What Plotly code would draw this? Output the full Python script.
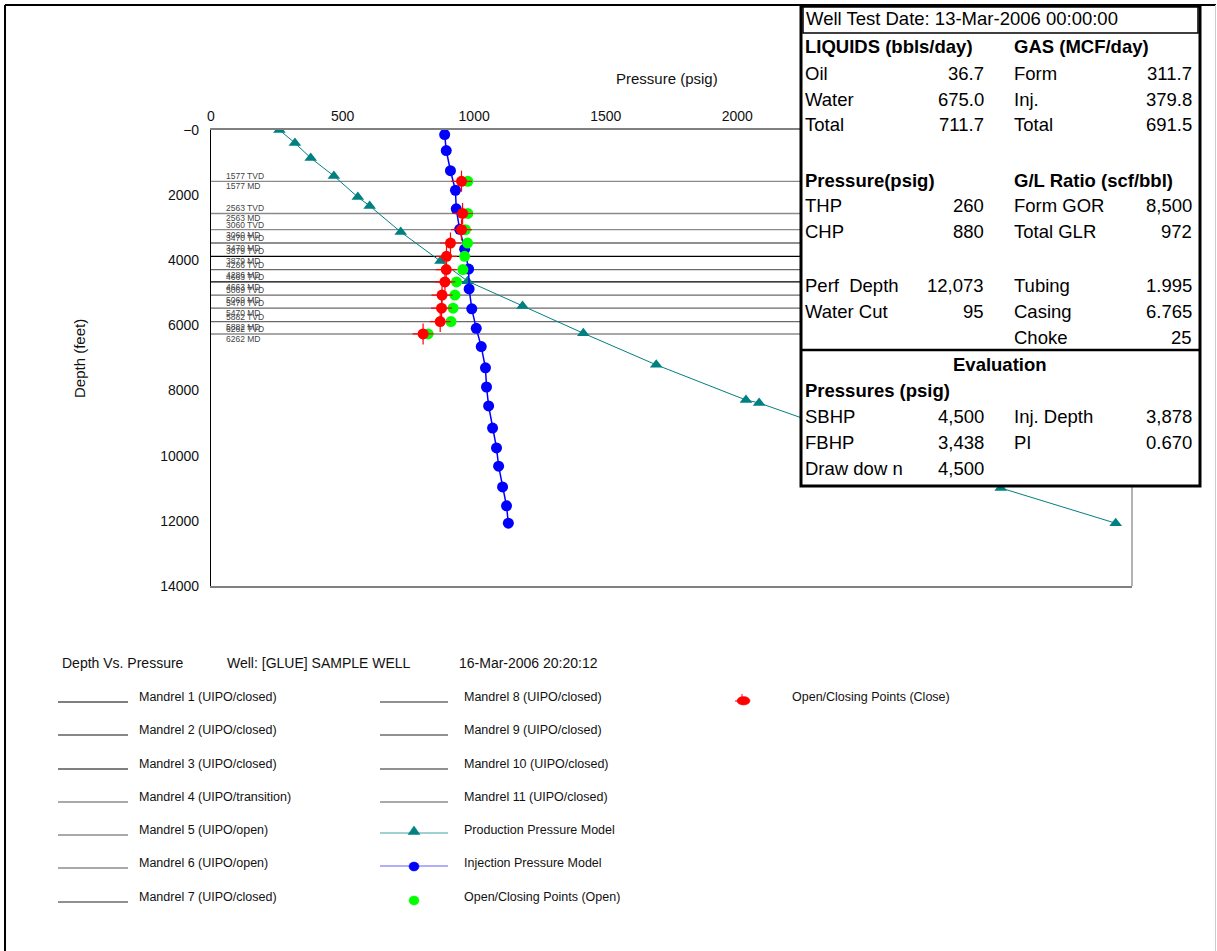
import plotly.graph_objects as go

# ---------------- data ----------------
mandrel_depths = [1577, 2563, 3060, 3470, 3879, 4286, 4663, 5069, 5470, 5882, 6262]
mandrel_colors = ["#8a8a8a", "#8a8a8a", "#8a8a8a", "#6a6a6a", "#000000", "#6a6a6a",
                  "#000000", "#6a6a6a", "#6a6a6a", "#6a6a6a", "#8a8a8a"]
open_pressure = [976, 976, 967, 975, 964, 957, 933, 927, 920, 912, 825]
close_pressure = [952, 956, 952, 910, 895, 894, 889, 878, 876, 871, 806]

prod_depth = [0, 400, 860, 1410, 2060, 2330, 3130, 4020, 4640, 5400, 6240, 7210, 8290, 8380, 10990, 12073]
prod_pressure = [260, 319, 379, 467, 558, 603, 721, 872, 975, 1184, 1415, 1692, 2033, 2083, 3001, 3438]

inj_depth = [140, 630, 1250, 1850, 2420, 3050, 3660, 4270, 4880, 5490, 6090, 6650,
             7300, 7890, 8470, 9150, 9760, 10320, 10960, 11540, 12073]
inj_pressure = [888, 894, 910, 929, 932, 945, 964, 979, 981, 991, 1008, 1027,
                1043, 1047, 1055, 1070, 1085, 1093, 1108, 1123, 1130]

x_ticks = [0, 500, 1000, 1500, 2000, 2500, 3000, 3500]
y_ticks = [0, 2000, 4000, 6000, 8000, 10000, 12000, 14000]
y_ticktext = ["\u22120", "2000", "4000", "6000", "8000", "10000", "12000", "14000"]

legend_col1 = ["Mandrel 1 (UIPO/closed)", "Mandrel 2 (UIPO/closed)", "Mandrel 3 (UIPO/closed)",
               "Mandrel 4 (UIPO/transition)", "Mandrel 5 (UIPO/open)", "Mandrel 6 (UIPO/open)",
               "Mandrel 7 (UIPO/closed)"]
legend_col2 = ["Mandrel 8 (UIPO/closed)", "Mandrel 9 (UIPO/closed)", "Mandrel 10 (UIPO/closed)",
               "Mandrel 11 (UIPO/closed)", "Production Pressure Model", "Injection Pressure Model",
               "Open/Closing Points (Open)"]
legend_col3 = ["Open/Closing Points (Close)"]

table_date = "Well Test Date: 13-Mar-2006 00:00:00"
# (row y, left label, left value, right label, right value, bold)
table_rows = [
    (47, "LIQUIDS (bbls/day)", "", "GAS (MCF/day)", "", True),
    (73, "Oil", "36.7", "Form", "311.7", False),
    (99, "Water", "675.0", "Inj.", "379.8", False),
    (125, "Total", "711.7", "Total", "691.5", False),
    (180, "Pressure(psig)", "", "G/L Ratio (scf/bbl)", "", True),
    (205, "THP", "260", "Form GOR", "8,500", False),
    (231, "CHP", "880", "Total GLR", "972", False),
    (285, "Perf  Depth", "12,073", "Tubing", "1.995", False),
    (311, "Water Cut", "95", "Casing", "6.765", False),
    (337, "", "", "Choke", "25", False),
    (390, "Pressures (psig)", "", "", "", True),
    (416, "SBHP", "4,500", "Inj. Depth", "3,878", False),
    (442, "FBHP", "3,438", "PI", "0.670", False),
    (468, "Draw dow n", "4,500", "", "", False),
]

FONT = "Arial, 'Liberation Sans', sans-serif"
W, H = 1217, 951
PL, PT, PW, PH = 211, 130, 921, 456


def X(px):
    return (px - PL) / PW


def Y(py):
    return (PT + PH - py) / PH


fig = go.Figure()

# mandrel lines
for d, c in zip(mandrel_depths, mandrel_colors):
    fig.add_trace(go.Scatter(x=[0, 3500], y=[d, d], mode="lines",
                             line=dict(color=c, width=1.4), hoverinfo="skip", showlegend=False))

# production model
fig.add_trace(go.Scatter(x=prod_pressure, y=prod_depth, mode="lines+markers",
                         line=dict(color="#008080", width=1),
                         marker=dict(symbol="triangle-up", size=11, color="#008080"),
                         showlegend=False))
# injection model
fig.add_trace(go.Scatter(x=inj_pressure, y=inj_depth, mode="lines+markers",
                         line=dict(color="#0000ff", width=1.5),
                         marker=dict(symbol="circle", size=11, color="#0000ff"),
                         showlegend=False))
# open points
fig.add_trace(go.Scatter(x=open_pressure, y=mandrel_depths, mode="markers",
                         marker=dict(symbol="circle", size=11, color="#00ff00"),
                         showlegend=False))
# closing points
fig.add_trace(go.Scatter(x=close_pressure, y=mandrel_depths, mode="markers",
                         marker=dict(symbol="cross-thin", size=15, line=dict(color="#ff0000", width=1.2)),
                         showlegend=False))
fig.add_trace(go.Scatter(x=close_pressure, y=mandrel_depths, mode="markers",
                         marker=dict(symbol="circle", size=11, color="#ff0000"),
                         showlegend=False))

annotations = []
# mandrel labels
for d in mandrel_depths:
    annotations.append(dict(x=50, y=d, xref="x", yref="y", text=f"{d} TVD", showarrow=False,
                            xanchor="left", yanchor="middle", yshift=5,
                            font=dict(family=FONT, size=8.5, color="#444444")))
    annotations.append(dict(x=50, y=d, xref="x", yref="y", text=f"{d} MD", showarrow=False,
                            xanchor="left", yanchor="middle", yshift=-5,
                            font=dict(family=FONT, size=8.5, color="#444444")))

# axis titles
annotations.append(dict(x=X(667), y=Y(78), xref="paper", yref="paper", text="Pressure (psig)",
                        showarrow=False, xanchor="center", yanchor="middle",
                        font=dict(family=FONT, size=15, color="#111111")))
annotations.append(dict(x=X(79), y=Y(359), xref="paper", yref="paper", text="Depth (feet)",
                        showarrow=False, xanchor="center", yanchor="middle", textangle=-90,
                        font=dict(family=FONT, size=15, color="#111111")))

shapes = []
# page frame
shapes.append(dict(type="line", xref="paper", yref="paper", x0=X(5), x1=X(5), y0=Y(5), y1=Y(960),
                   line=dict(color="#000000", width=2), layer="above"))
shapes.append(dict(type="line", xref="paper", yref="paper", x0=X(5), x1=X(1216), y0=Y(5), y1=Y(5),
                   line=dict(color="#000000", width=2), layer="above"))
shapes.append(dict(type="line", xref="paper", yref="paper", x0=X(1215.5), x1=X(1215.5), y0=Y(5), y1=Y(960),
                   line=dict(color="#cccccc", width=1), layer="above"))
# plot right border
shapes.append(dict(type="line", xref="paper", yref="paper", x0=1, x1=1, y0=0, y1=1,
                   line=dict(color="#808080", width=1.2), layer="above"))

# table
shapes.append(dict(type="rect", xref="paper", yref="paper", x0=X(801), x1=X(1200), y0=Y(6), y1=Y(486),
                   fillcolor="white", line=dict(color="#000000", width=3), layer="above"))
shapes.append(dict(type="rect", xref="paper", yref="paper", x0=X(803), x1=X(1198), y0=Y(7), y1=Y(33),
                   fillcolor="white", line=dict(color="#000000", width=1.5), layer="above"))
shapes.append(dict(type="line", xref="paper", yref="paper", x0=X(801), x1=X(1200), y0=Y(350), y1=Y(350),
                   line=dict(color="#000000", width=2.5), layer="above"))

TF = dict(family=FONT, size=18.5, color="#000000")
annotations.append(dict(x=X(804), y=Y(19), xref="paper", yref="paper", text=table_date, showarrow=False,
                        xanchor="left", yanchor="middle", font=TF))
for (ry, l1, v1, l2, v2, bold) in table_rows:
    def fmt(t):
        return f"<b>{t}</b>" if bold else t
    if l1:
        annotations.append(dict(x=X(803), y=Y(ry), xref="paper", yref="paper", text=fmt(l1),
                                showarrow=False, xanchor="left", yanchor="middle", font=TF))
    if v1:
        annotations.append(dict(x=X(986), y=Y(ry), xref="paper", yref="paper", text=v1,
                                showarrow=False, xanchor="right", yanchor="middle", font=TF))
    if l2:
        annotations.append(dict(x=X(1012), y=Y(ry), xref="paper", yref="paper", text=fmt(l2),
                                showarrow=False, xanchor="left", yanchor="middle", font=TF))
    if v2:
        annotations.append(dict(x=X(1194), y=Y(ry), xref="paper", yref="paper", text=v2,
                                showarrow=False, xanchor="right", yanchor="middle", font=TF))
annotations.append(dict(x=X(1000), y=Y(364), xref="paper", yref="paper", text="<b>Evaluation</b>",
                        showarrow=False, xanchor="center", yanchor="middle", font=TF))

# legend block
HF = dict(family=FONT, size=14, color="#111111")
for tx, t in [(60, "Depth Vs. Pressure"), (225, "Well: [GLUE] SAMPLE WELL"), (457, "16-Mar-2006 20:20:12")]:
    annotations.append(dict(x=X(tx), y=Y(663), xref="paper", yref="paper", text=t, showarrow=False,
                            xanchor="left", yanchor="middle", font=HF))

LF = dict(family=FONT, size=12.5, color="#111111")
row_y = [697, 730, 764, 797, 830, 863, 897]
col1_colors = ["#000000", "#111111", "#000000", "#555555", "#555555", "#555555", "#222222"]
for i, t in enumerate(legend_col1):
    ry = row_y[i]
    shapes.append(dict(type="line", xref="paper", yref="paper", x0=X(58), x1=X(128), y0=Y(ry + 5), y1=Y(ry + 5),
                       line=dict(color=col1_colors[i], width=1), layer="above"))
    annotations.append(dict(x=X(137), y=Y(ry), xref="paper", yref="paper", text=t, showarrow=False,
                            xanchor="left", yanchor="middle", font=LF))
for i, t in enumerate(legend_col2):
    ry = row_y[i]
    if i < 4:
        shapes.append(dict(type="line", xref="paper", yref="paper", x0=X(380), x1=X(448), y0=Y(ry + 5), y1=Y(ry + 5),
                           line=dict(color="#222222" if i != 3 else "#555555", width=1), layer="above"))
    elif i == 4:
        shapes.append(dict(type="line", xref="paper", yref="paper", x0=X(380), x1=X(448), y0=Y(ry + 3), y1=Y(ry + 3),
                           line=dict(color="#40a0a0", width=1), layer="above"))
        shapes.append(dict(type="path", xref="paper", yref="paper",
                           path=f"M {X(408)} {Y(ry + 4.5)} L {X(420)} {Y(ry + 4.5)} L {X(414)} {Y(ry - 4)} Z",
                           fillcolor="#008080", line=dict(color="#008080", width=0.5), layer="above"))
    elif i == 5:
        shapes.append(dict(type="line", xref="paper", yref="paper", x0=X(380), x1=X(448), y0=Y(ry + 3), y1=Y(ry + 3),
                           line=dict(color="#6060ff", width=1), layer="above"))
        shapes.append(dict(type="circle", xref="paper", yref="paper", x0=X(409), x1=X(419), y0=Y(ry - 1), y1=Y(ry + 8),
                           fillcolor="#0000ff", line=dict(color="#0000ff", width=0.5), layer="above"))
    else:
        shapes.append(dict(type="circle", xref="paper", yref="paper", x0=X(409), x1=X(419), y0=Y(ry - 1), y1=Y(ry + 8),
                           fillcolor="#00ff00", line=dict(color="#00ff00", width=0.5), layer="above"))
    annotations.append(dict(x=X(462), y=Y(ry), xref="paper", yref="paper", text=t, showarrow=False,
                            xanchor="left", yanchor="middle", font=LF))
# close points legend
shapes.append(dict(type="circle", xref="paper", yref="paper", x0=X(737), x1=X(750), y0=Y(696.5), y1=Y(705),
                   fillcolor="#ff0000", line=dict(color="#ff0000", width=0.5), layer="above"))
shapes.append(dict(type="line", xref="paper", yref="paper", x0=X(735), x1=X(745), y0=Y(701), y1=Y(701),
                   line=dict(color="#ff0000", width=1), layer="above"))
shapes.append(dict(type="line", xref="paper", yref="paper", x0=X(742), x1=X(742), y0=Y(694), y1=Y(700),
                   line=dict(color="#ff0000", width=1), layer="above"))
annotations.append(dict(x=X(790), y=Y(697), xref="paper", yref="paper", text=legend_col3[0], showarrow=False,
                        xanchor="left", yanchor="middle", font=LF))

fig.update_layout(
    width=W, height=H,
    margin=dict(l=PL, r=W - PL - PW, t=PT, b=H - PT - PH, pad=0),
    paper_bgcolor="white", plot_bgcolor="white",
    showlegend=False,
    font=dict(family=FONT, color="#111111"),
    xaxis=dict(range=[0, 3500], side="top", tickvals=x_ticks, ticktext=[str(v) for v in x_ticks],
               showgrid=False, zeroline=False, showline=True, linecolor="#808080", linewidth=1.5,
               mirror=True, ticks="outside", ticklen=2, tickcolor="rgba(0,0,0,0)",
               tickfont=dict(family=FONT, size=14, color="#111111")),
    yaxis=dict(range=[14000, 0], tickvals=y_ticks, ticktext=y_ticktext,
               showgrid=False, zeroline=False, showline=True, linecolor="#000000", linewidth=1.2,
               ticks="outside", ticklen=8, tickcolor="rgba(0,0,0,0)",
               tickfont=dict(family=FONT, size=14, color="#111111")),
    annotations=annotations,
    shapes=shapes,
)

fig.write_html("out.html", config={"displayModeBar": False},
               post_script="document.body.style.margin='0';document.body.style.overflow='hidden';")
